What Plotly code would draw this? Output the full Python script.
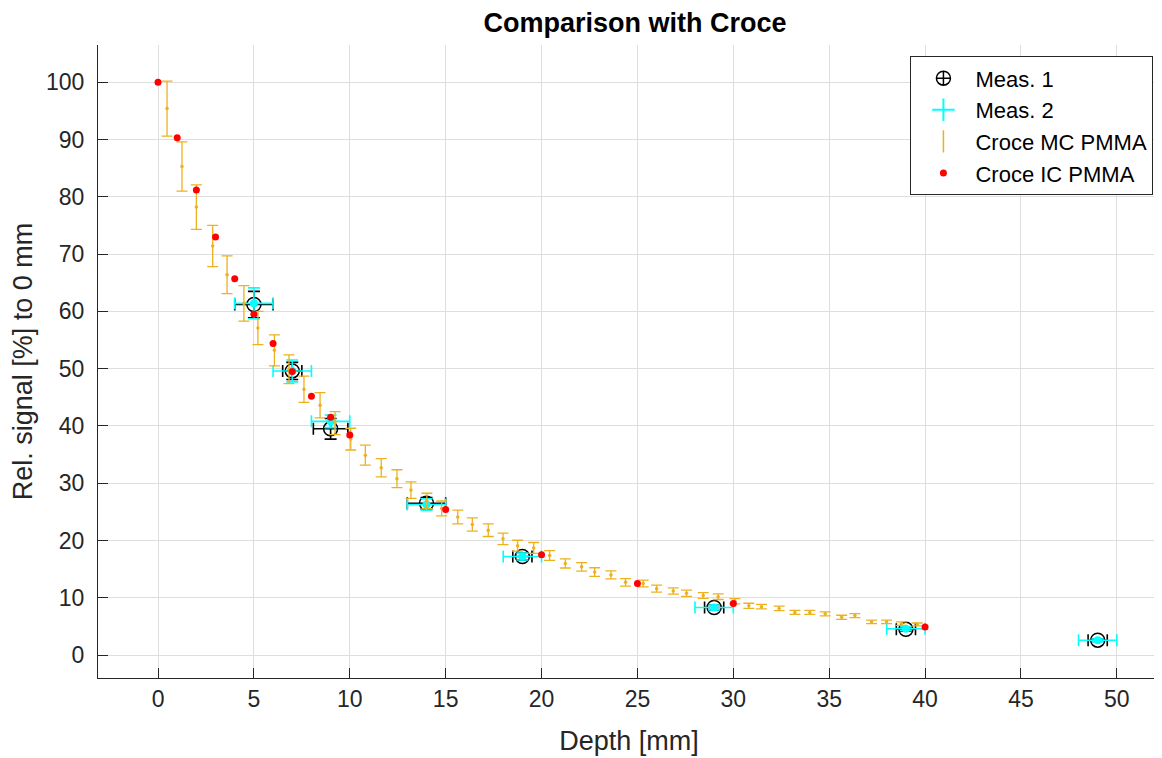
import plotly.graph_objects as go

# ---------------- data ----------------
# Croce MC PMMA (Monte Carlo) depth [mm], relative signal [%], error [%]
mc_depth = [0.47, 1.25, 2.00, 2.85, 3.60, 4.48, 5.21, 6.07, 6.83, 7.61,
            8.45, 9.23, 10.05, 10.81, 11.64, 12.46, 13.19, 14.02, 14.79, 15.63,
            16.39, 17.22, 17.99, 18.75, 19.59, 20.42, 21.24, 22.09, 22.77, 23.62,
            24.38, 25.30, 26.00, 26.87, 27.56, 28.43, 29.21, 30.08, 30.81, 31.47,
            32.39, 33.21, 33.99, 34.79, 35.65, 36.34, 37.21, 37.99, 38.77, 39.59]
mc_signal = [95.4, 85.3, 78.2, 71.4, 66.4, 61.4, 57.1, 53.2, 49.9, 46.4,
             43.6, 40.5, 37.7, 34.9, 32.7, 30.8, 28.8, 26.9, 25.6, 24.1,
             22.8, 21.8, 20.3, 19.1, 18.7, 17.4, 16.0, 15.4, 14.5, 14.0,
             12.7, 12.5, 11.6, 11.2, 10.8, 10.4, 10.2, 9.4, 8.6, 8.45,
             8.15, 7.45, 7.45, 7.2, 6.6, 6.9, 5.8, 5.8, 5.5, 5.35]
mc_err = [4.8, 4.3, 3.9, 3.6, 3.3, 3.1, 2.9, 2.7, 2.5, 2.3,
          2.2, 2.0, 1.9, 1.75, 1.6, 1.55, 1.45, 1.35, 1.3, 1.2,
          1.15, 1.1, 1.0, 0.95, 0.95, 0.85, 0.8, 0.75, 0.75, 0.7,
          0.65, 0.6, 0.6, 0.55, 0.55, 0.5, 0.5, 0.45, 0.45, 0.4,
          0.4, 0.35, 0.35, 0.35, 0.35, 0.35, 0.3, 0.3, 0.3, 0.25]

# Croce IC PMMA (ionisation chamber)
ic_depth = [0, 1, 2, 3, 4, 5, 6, 7, 8, 9, 10, 15, 20, 25, 30, 40]
ic_signal = [100.0, 90.3, 81.2, 73.0, 65.7, 59.5, 54.4, 49.5, 45.2, 41.5,
             38.4, 25.4, 17.5, 12.5, 9.0, 4.9]

# Measurements
meas_depth = [5, 7, 9, 14, 19, 29, 39, 49]
meas1_signal = [61.2, 49.6, 39.5, 26.5, 17.2, 8.3, 4.5, 2.6]
meas1_yerr = [2.3, 1.5, 1.8, 1.0, 0.6, 0.4, 0.3, 0.2]
meas1_xerr = [1.0, 0.5, 0.9, 1.0, 0.5, 0.5, 0.5, 0.5]
meas2_signal = [61.4, 49.6, 40.8, 26.3, 17.2, 8.3, 4.6, 2.6]
meas2_yerr = [2.7, 1.9, 1.1, 1.0, 0.6, 0.4, 0.3, 0.2]
meas2_xerr = [1.0, 1.0, 1.0, 1.0, 1.0, 1.0, 1.0, 1.0]

x_ticks = [0, 5, 10, 15, 20, 25, 30, 35, 40, 45, 50]
y_ticks = [0, 10, 20, 30, 40, 50, 60, 70, 80, 90, 100]

# ---------------- styles ----------------
FONT = "Liberation Sans, Arial, Helvetica, sans-serif"
TXT = "#262626"
ORANGE = "#EDB120"
CYAN = "#00FFFF"
RED = "#FF0000"

fig = go.Figure()

fig.add_trace(go.Scatter(
    x=meas_depth, y=meas1_signal, mode="markers", name="Meas. 1", showlegend=False,
    marker=dict(symbol="circle-open", size=14, color="#000000", line=dict(width=1.5, color="#000000")),
    error_x=dict(type="data", array=meas1_xerr, color="#000000", thickness=1.6, width=6),
    error_y=dict(type="data", array=meas1_yerr, color="#000000", thickness=1.6, width=6),
))
fig.add_trace(go.Scatter(
    x=meas_depth, y=meas2_signal, mode="markers", name="Meas. 2", showlegend=False,
    marker=dict(symbol="circle", size=8, color=CYAN),
    error_x=dict(type="data", array=meas2_xerr, color=CYAN, thickness=1.6, width=6),
    error_y=dict(type="data", array=meas2_yerr, color=CYAN, thickness=1.6, width=6),
))
fig.add_trace(go.Scatter(
    x=mc_depth, y=mc_signal, mode="markers", name="Croce MC PMMA", showlegend=False,
    marker=dict(symbol="circle", size=3.5, color=ORANGE),
    error_y=dict(type="data", array=mc_err, color=ORANGE, thickness=1.3, width=5.5),
))
fig.add_trace(go.Scatter(
    x=ic_depth, y=ic_signal, mode="markers", name="Croce IC PMMA", showlegend=False,
    marker=dict(symbol="circle", size=7, color=RED),
))

# legend-only entries (symbols that resemble the error-bar icons)
fig.add_trace(go.Scatter(x=[None], y=[None], mode="markers", name="Meas. 1",
    marker=dict(symbol="circle-cross-open", size=14, color="#000000", line=dict(width=1.5, color="#000000"))))
fig.add_trace(go.Scatter(x=[None], y=[None], mode="markers", name="Meas. 2",
    marker=dict(symbol="cross-thin-open", size=16, color=CYAN, line=dict(width=2, color=CYAN))))
fig.add_trace(go.Scatter(x=[None], y=[None], mode="markers", name="Croce MC PMMA",
    marker=dict(symbol="line-ns-open", size=16, color=ORANGE, line=dict(width=1.5, color=ORANGE))))
fig.add_trace(go.Scatter(x=[None], y=[None], mode="markers", name="Croce IC PMMA",
    marker=dict(symbol="circle", size=7, color=RED)))

axis_common = dict(
    showgrid=True, gridcolor="#dedede", gridwidth=1,
    zeroline=False, showline=True, linecolor=TXT, linewidth=1,
    ticks="inside", ticklen=10, tickcolor=TXT, tickwidth=1,
    tickfont=dict(family=FONT, size=23, color=TXT),
    mirror=False, automargin=False,
)

# The page body adds an 8 px offset, so the figure is sized to fit the window.
fig.update_layout(
    width=1154, height=750,
    margin=dict(l=90, r=2, t=37, b=80),
    paper_bgcolor="white", plot_bgcolor="white",
    title=dict(text="<b>Comparison with Croce</b>", x=0.5433, xanchor="center",
               y=0.981, yanchor="middle", yref="container",
               font=dict(family=FONT, size=27, color="#000000")),
    xaxis=dict(range=[-3.13, 52.25], tickvals=x_ticks,
               title=dict(text="Depth [mm]", font=dict(family=FONT, size=27, color=TXT), standoff=20),
               **axis_common),
    yaxis=dict(range=[-4.0, 106.5], tickvals=y_ticks, ticklabelstandoff=8,
               title=dict(text="Rel. signal [%] to 0 mm", font=dict(family=FONT, size=27, color=TXT), standoff=10),
               **axis_common),
    legend=dict(x=0.765, xanchor="left", y=0.982, yanchor="top",
                bgcolor="white", bordercolor=TXT, borderwidth=1,
                font=dict(family=FONT, size=22, color="#000000"),
                tracegroupgap=0, itemsizing="trace", itemwidth=54),
    showlegend=True,
)

fig.write_html("out.html")
